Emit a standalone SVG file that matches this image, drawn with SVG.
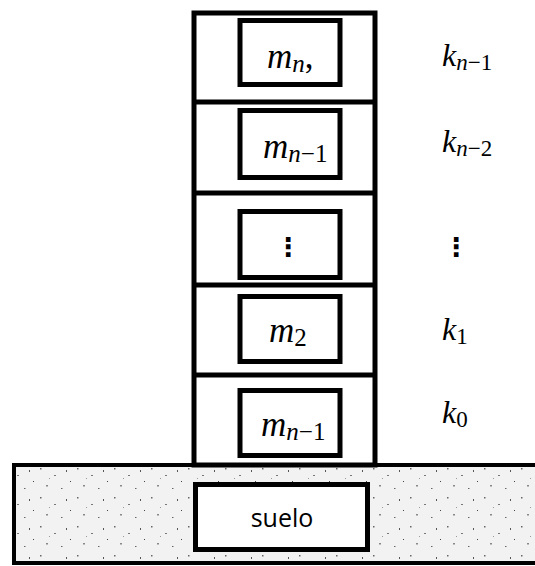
<svg xmlns="http://www.w3.org/2000/svg" width="535" height="566" viewBox="0 0 535 566">
<defs>
<pattern id="speck" width="37" height="29" patternUnits="userSpaceOnUse">
<rect width="37" height="29" fill="#f2f2f2"/>
<rect x="3" y="4" width="1.5" height="1.5" fill="#666"/>
<rect x="17" y="11" width="2" height="1" fill="#777"/>
<rect x="29" y="6" width="1" height="2" fill="#555"/>
<rect x="9" y="21" width="2" height="1.5" fill="#888"/>
<rect x="24" y="24" width="1.5" height="1" fill="#666"/>
<rect x="33" y="17" width="1" height="1" fill="#444"/>
<rect x="12" y="14" width="1" height="1" fill="#999"/>
</pattern>
<style>
.frame{fill:#fff;stroke:#000;stroke-width:5}
.div{stroke:#000;stroke-width:5}
.box{fill:#fff;stroke:#000;stroke-width:5}
.math{font-family:"Liberation Serif","DejaVu Serif",serif;font-style:italic;fill:#000}
.up{font-style:normal}
.m{font-size:35px}
.k{font-size:32px}
.sub{font-size:25px}
.ksub{font-size:23px}
.dots{font-family:"DejaVu Sans",sans-serif;font-size:26px;font-weight:bold;fill:#000}
.label{font-family:"Open Sans","Liberation Sans",sans-serif;font-size:25px;fill:#000}
</style>
</defs>

<g id="ground">
<rect x="14" y="465" width="530" height="98" fill="url(#speck)" stroke="#000" stroke-width="4"/>
</g>

<g id="tower">
<rect x="194" y="13" width="181" height="452" class="frame"/>
</g>

<g id="connectors">
<line x1="194" y1="102" x2="375" y2="102" class="div"/>
<line x1="194" y1="193" x2="375" y2="193" class="div"/>
<line x1="194" y1="285" x2="375" y2="285" class="div"/>
<line x1="194" y1="375" x2="375" y2="375" class="div"/>
</g>

<g id="mass-n">
<rect x="240" y="20.5" width="100" height="64" class="box"/>
<text x="267" y="68" class="math m">m<tspan class="sub" dy="4">n</tspan><tspan class="up" dy="-4">,</tspan></text>
</g>
<g id="mass-n-1-top">
<rect x="240" y="110.5" width="100" height="67" class="box"/>
<text x="263" y="158" class="math m">m<tspan class="sub" dy="4">n</tspan><tspan class="sub up">−1</tspan></text>
</g>
<g id="mass-dots">
<rect x="240" y="211.5" width="100" height="66" class="box"/>
<text x="288" y="256" text-anchor="middle" class="dots">⋮</text>
</g>
<g id="mass-2">
<rect x="240" y="296.5" width="100" height="65" class="box"/>
<text x="269" y="342" class="math m">m<tspan class="sub up" dy="4">2</tspan></text>
</g>
<g id="mass-n-1-bottom">
<rect x="240" y="390.5" width="100" height="65" class="box"/>
<text x="261" y="436" class="math m">m<tspan class="sub" dy="4">n</tspan><tspan class="sub up">−1</tspan></text>
</g>

<g id="suelo">
<rect x="195.5" y="484.5" width="172" height="65" class="box"/>
<text x="282" y="527" class="label" text-anchor="middle">suelo</text>
</g>

<g id="k-labels">
<text x="442" y="66" class="math k">k<tspan class="ksub" dy="4">n</tspan><tspan class="ksub up">−1</tspan></text>
<text x="442" y="152" class="math k">k<tspan class="ksub" dy="4">n</tspan><tspan class="ksub up">−2</tspan></text>
<text x="456" y="256" text-anchor="middle" class="dots">⋮</text>
<text x="442" y="340" class="math k">k<tspan class="ksub up" dy="4">1</tspan></text>
<text x="442" y="423" class="math k">k<tspan class="ksub up" dy="4">0</tspan></text>
</g>
</svg>
